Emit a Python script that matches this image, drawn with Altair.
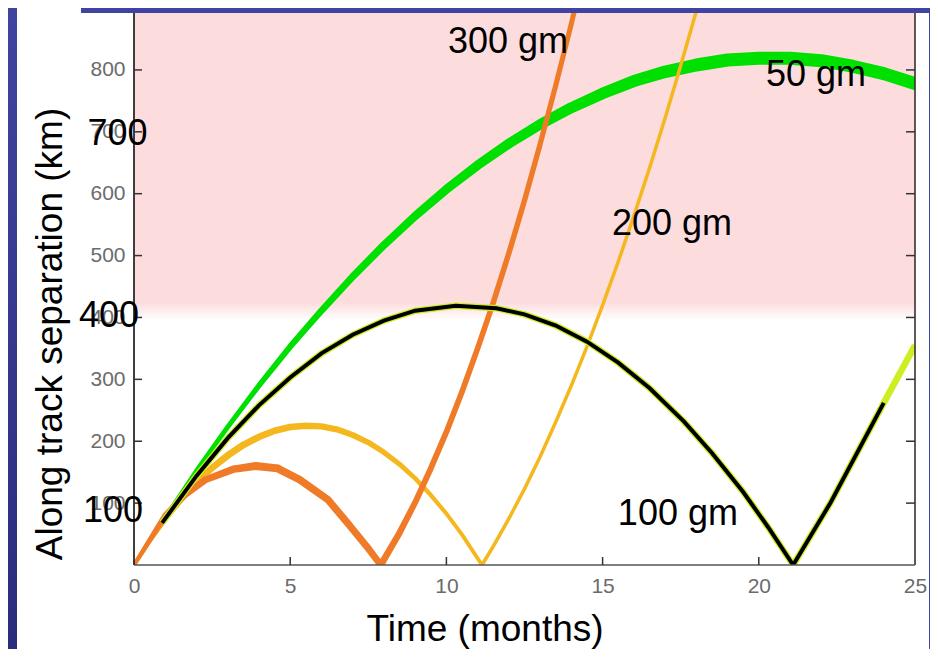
import altair as alt
import pandas as pd

# ---------------- data ----------------
# 50 gm (green)
t_50 = [0, 1, 2, 3, 4, 5, 6, 7, 8, 9, 10, 11, 12, 13, 14, 15, 16, 17, 18, 19, 20, 21, 22, 23, 24, 25]
v_50 = [0, 78, 153, 223, 290, 353, 411, 466, 517, 564, 607, 646, 681, 712, 739, 762, 782, 797, 808, 816, 819, 819, 815, 806, 794, 778]

# 300 gm (orange)
t_300 = [0, 0.3, 1, 1.6, 2.3, 3.2, 3.9, 4.6, 5.3, 6.2, 6.9, 7.45, 7.9, 8.5, 9, 9.5, 10, 10.5, 11, 11.5, 12, 12.5, 13, 13.5, 14, 14.5]
v_300 = [0, 24, 80, 112, 138, 155, 160, 156, 138, 106, 64, 30, 0, 52, 101, 156, 215, 280, 350, 424, 504, 589, 680, 775, 875, 981]

# 200 gm (yellow-orange)
t_200 = [0, 0.5, 1, 1.5, 2, 2.5, 3, 3.5, 4, 4.5, 5, 5.5, 6, 6.5, 7, 7.5, 8, 8.5, 9, 9.5, 10, 10.5, 11.14,
         11.5, 12, 12.5, 13, 13.5, 14, 14.5, 15, 15.5, 16, 16.5, 17, 17.5, 18, 18.5]
v_200 = [0, 39, 74, 105, 133, 157, 177, 194, 207, 217, 223, 225, 224, 219, 210, 198, 182, 163, 140, 113, 83, 49, 0,
         30, 75, 123, 175, 231, 290, 353, 420, 490, 564, 641, 722, 807, 895, 987]

# 100 gm (black polyline over a yellow-green curve)
t_100 = [0.9, 2, 3, 4, 5, 6, 7, 8, 9, 10.3, 11.6, 12.5, 13.5, 14.5, 15.5, 16.5, 17.6, 18.5, 19.5, 20.3, 21.1, 22.3, 24]
v_100 = [68, 144, 205, 258, 303, 342, 372, 395, 411, 419, 415, 405, 387, 361, 327, 286, 232, 181, 118, 61, 0, 101, 262]
t_100_under = t_100 + [25]
v_100_under = v_100 + [355]

# axis ticks
x_ticks = [0, 5, 10, 15, 20, 25]
y_ticks = [100, 200, 300, 400, 500, 600, 700, 800]
x_inner_ticks = [5, 10, 15, 20]

# annotations
curve_labels = ["300 gm", "50 gm", "200 gm", "100 gm"]
curve_label_t = [11.97, 21.83, 17.22, 17.41]
curve_label_v = [845, 792, 551, 83]
big_labels = ["700", "400", "100"]
big_label_t = [-0.53, -0.80, -0.67]
big_label_v = [696, 403, 88]

X_MAX = 25
Y_MAX = 892
PINK_FROM = 395

# ---------------- chart ----------------
W, H = 781, 552
FONT = "Liberation Sans"
xs = alt.Scale(domain=[0, X_MAX], nice=False, zero=False)
ys = alt.Scale(domain=[0, Y_MAX], nice=False, zero=False)

AX_X = alt.Axis(values=x_ticks, title=None, domain=False, ticks=False, grid=False,
                labelFont=FONT, labelFontSize=21, labelColor="#6b6b6b",
                labelPadding=10, labelFlush=False, labelOverlap=False, format="d")
AX_Y = alt.Axis(values=y_ticks, title=None, domain=False, ticks=False, grid=False,
                labelFont=FONT, labelFontSize=21, labelColor="#6b6b6b",
                labelPadding=9, labelFlush=False, labelOverlap=False, format="d")


def X(field):
    return alt.X(field, type="quantitative", scale=xs, axis=AX_X)


def Y(field):
    return alt.Y(field, type="quantitative", scale=ys, axis=AX_Y)


one = pd.DataFrame({"_": [0]})

blue_grad = alt.Gradient(
    gradient="linear",
    stops=[alt.GradientStop(color="#4044a0", offset=0), alt.GradientStop(color="#2a2d7c", offset=1)],
    x1=0, x2=0, y1=0, y2=1,
)
left_strip = alt.Chart(one).mark_rect(color=blue_grad).encode(
    x=alt.value(-126), x2=alt.value(-117), y=alt.value(-5), y2=alt.value(636)
)
top_strip = alt.Chart(one).mark_rect(color="#4044a0").encode(
    x=alt.value(-53), x2=alt.value(796), y=alt.value(-5), y2=alt.value(0)
)
right_strip = alt.Chart(one).mark_rect(color="#4044a0").encode(
    x=alt.value(795), x2=alt.value(796), y=alt.value(-5), y2=alt.value(636)
)

pink_grad = alt.Gradient(
    gradient="linear",
    stops=[alt.GradientStop(color="#ffffff", offset=0),
           alt.GradientStop(color="#fcdcdd", offset=0.06),
           alt.GradientStop(color="#fcdcdd", offset=1)],
    x1=0, x2=0, y1=1, y2=0,
)
pink_df = pd.DataFrame({"t0": [0], "t1": [X_MAX], "v0": [PINK_FROM], "v1": [Y_MAX]})
pink = alt.Chart(pink_df).mark_rect(color=pink_grad).encode(
    x=X("t0"), x2="t1", y=Y("v0"), y2="v1",
)


def trail(t, v, color, dom, rng):
    df = pd.DataFrame({"t": t, "v": v})
    return alt.Chart(df).mark_trail(color=color, clip=True).encode(
        x=X("t"), y=Y("v"),
        size=alt.Size("t:Q", scale=alt.Scale(domain=dom, range=rng), legend=None),
        order="t:Q",
    )


green = trail(t_50, v_50, "#00e000", [0, 5, 12, 18, 25], [3, 6, 10, 13, 13])
yellow = trail(t_200, v_200, "#f4b71e", [0, 3, 7, 10, 12, 18.5], [4, 7, 6, 4, 3.5, 3.5])
orange = trail(t_300, v_300, "#ef7b28", [0, 1, 4, 7.5, 9, 14.5], [4, 6, 8, 7, 6, 5])

df100u = pd.DataFrame({"t": t_100_under, "v": v_100_under})
yg = alt.Chart(df100u).mark_line(color="#cdee22", strokeWidth=6.5, clip=True).encode(x=X("t"), y=Y("v"))
df100 = pd.DataFrame({"t": t_100, "v": v_100})
black = alt.Chart(df100).mark_line(color="#000000", strokeWidth=4, clip=True).encode(x=X("t"), y=Y("v"))

# frame
left_axis = alt.Chart(one).mark_rule(color="#111111", strokeWidth=1.6).encode(
    x=alt.value(0), y=alt.value(0), y2=alt.value(H))
right_axis = alt.Chart(one).mark_rule(color="#3a3030", strokeWidth=1.6).encode(
    x=alt.value(W), y=alt.value(0), y2=alt.value(H))
bottom_axis = alt.Chart(one).mark_rule(color="#555555", strokeWidth=1.6).encode(
    y=alt.value(H), x=alt.value(0), x2=alt.value(W))

ydf = pd.DataFrame({"v": y_ticks})
lt = alt.Chart(ydf).mark_rule(color="#333333", strokeWidth=1.5).encode(
    y=Y("v"), x=alt.value(0), x2=alt.value(8))
rt = alt.Chart(ydf).mark_rule(color="#333333", strokeWidth=1.5).encode(
    y=Y("v"), x=alt.value(W - 9), x2=alt.value(W))
xdf = pd.DataFrame({"t": x_inner_ticks})
bt = alt.Chart(xdf).mark_rule(color="#333333", strokeWidth=1.5).encode(
    x=X("t"), y=alt.value(H), y2=alt.value(H - 8))

# annotations
cl = pd.DataFrame({"label": curve_labels, "t": curve_label_t, "v": curve_label_v})
curve_text = alt.Chart(cl).mark_text(font=FONT, fontSize=36, color="#000000", baseline="middle", align="center").encode(
    x=X("t"), y=Y("v"), text="label:N")
bl = pd.DataFrame({"label": big_labels, "t": big_label_t, "v": big_label_v})
big_text = alt.Chart(bl).mark_text(font=FONT, fontSize=36, color="#000000", baseline="middle", align="center").encode(
    x=X("t"), y=Y("v"), text="label:N")

x_title = alt.Chart(one).mark_text(text="Time (months)", font=FONT, fontSize=37, color="#000000",
                                   align="center", baseline="alphabetic").encode(
    x=alt.value(351), y=alt.value(628))
y_title = alt.Chart(one).mark_text(text="Along track separation (km)", font=FONT, fontSize=37, color="#000000",
                                   align="center", baseline="alphabetic", angle=270).encode(
    x=alt.value(-72), y=alt.value(321))

chart = alt.layer(
    left_strip, top_strip, right_strip, pink,
    green, yellow, orange, yg, black,
    left_axis, right_axis, bottom_axis, lt, rt, bt,
    curve_text, big_text, x_title, y_title,
).resolve_scale(size="independent").properties(
    width=W, height=H,
    autosize=alt.AutoSizeParams(type="none"),
    padding={"left": 126, "top": 5, "right": 15, "bottom": 84},
).configure(background="#ffffff").configure_view(stroke=None)

chart.save("out.html", embed_options={"renderer": "svg", "actions": False})
